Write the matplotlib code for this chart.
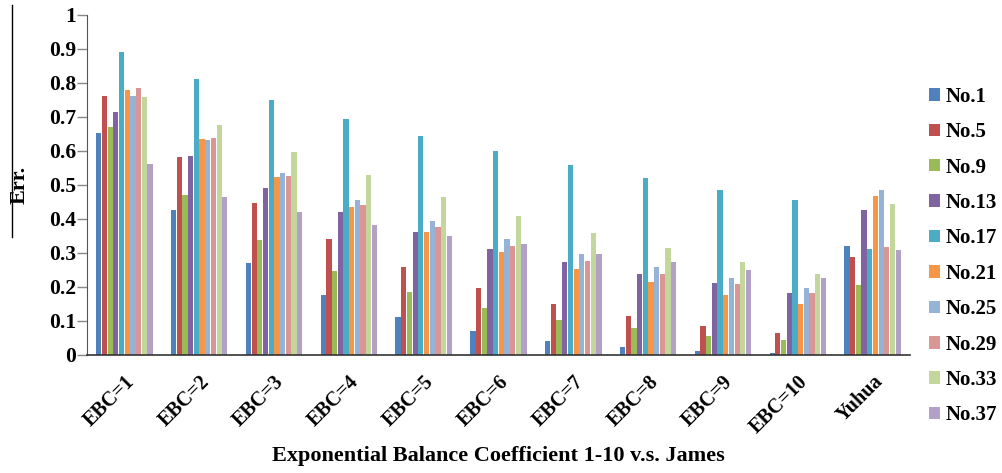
import matplotlib
matplotlib.use("Agg")
import matplotlib.pyplot as plt
import matplotlib.transforms as mtransforms
import numpy as np
from matplotlib.lines import Line2D

categories = ["EBC=1", "EBC=2", "EBC=3", "EBC=4", "EBC=5", "EBC=6",
              "EBC=7", "EBC=8", "EBC=9", "EBC=10", "Yuhua"]
series_names = ["No.1", "No.5", "No.9", "No.13", "No.17",
                "No.21", "No.25", "No.29", "No.33", "No.37"]
colors = ["#4F81BD", "#C0504D", "#9BBB59", "#8064A2", "#4BACC6",
          "#F79646", "#95B3D7", "#DA9694", "#C3D69B", "#B1A0C7"]

no1 = [0.652, 0.425, 0.271, 0.175, 0.112, 0.071, 0.041, 0.023, 0.013, 0.005, 0.321]
no5 = [0.763, 0.583, 0.446, 0.341, 0.260, 0.198, 0.151, 0.115, 0.086, 0.066, 0.287]
no9 = [0.672, 0.471, 0.338, 0.247, 0.184, 0.137, 0.104, 0.078, 0.057, 0.043, 0.206]
no13 = [0.714, 0.586, 0.492, 0.420, 0.362, 0.313, 0.273, 0.239, 0.211, 0.182, 0.425]
no17 = [0.890, 0.812, 0.751, 0.695, 0.645, 0.601, 0.560, 0.521, 0.486, 0.456, 0.313]
no21 = [0.779, 0.635, 0.524, 0.434, 0.362, 0.302, 0.252, 0.214, 0.176, 0.149, 0.469]
no25 = [0.763, 0.632, 0.534, 0.456, 0.393, 0.341, 0.296, 0.260, 0.226, 0.198, 0.486]
no29 = [0.786, 0.637, 0.525, 0.442, 0.375, 0.320, 0.275, 0.239, 0.208, 0.182, 0.318]
no33 = [0.760, 0.675, 0.598, 0.528, 0.466, 0.408, 0.359, 0.315, 0.273, 0.237, 0.445]
no37 = [0.562, 0.466, 0.420, 0.382, 0.351, 0.325, 0.296, 0.273, 0.250, 0.226, 0.310]

series = [no1, no5, no9, no13, no17, no21, no25, no29, no33, no37]

font = "Liberation Serif"

fig = plt.figure(figsize=(10.03, 4.73), dpi=100)
ax = fig.add_axes([87 / 1003, 1 - 355 / 473, (910 - 87) / 1003, (355 - 15) / 473])

x = np.arange(len(categories))
w = 0.076
for i, (name, vals) in enumerate(zip(series_names, series)):
    ax.bar(x + (i - 4.5) * w, vals, width=w * 0.92, color=colors[i],
           label=name, edgecolor="none")

ax.set_xlim(-0.5, len(categories) - 0.5)
ax.set_ylim(0, 1)
ax.set_yticks(np.arange(0, 1.01, 0.1))
ax.set_yticklabels(["0"] + ["%.1f" % v for v in np.arange(0.1, 0.95, 0.1)] + ["1"],
                   fontfamily=font, fontweight="bold", fontsize=15.5)
ax.set_xticks(x)
ax.set_xticklabels(categories, rotation=45, ha="right", va="top",
                   rotation_mode="anchor", fontfamily=font, fontweight="bold",
                   fontsize=14.5)
shift = mtransforms.ScaledTranslation(-6 / 100, 0, fig.dpi_scale_trans)
for lbl in ax.get_xticklabels():
    lbl.set_transform(lbl.get_transform() + shift)
ax.tick_params(axis="x", length=0, pad=12)
ax.tick_params(axis="y", length=7, width=1, color="#888888", pad=1)
ax.spines["top"].set_visible(False)
ax.spines["right"].set_visible(False)
ax.spines["left"].set_color("#555555")
ax.spines["bottom"].set_color("#333333")
ax.spines["bottom"].set_linewidth(1.2)

fig.text(498 / 1003, 1 - 456 / 473, "Exponential Balance Coefficient 1-10 v.s. James",
         ha="center", va="center", fontfamily=font, fontweight="bold", fontsize=16)
fig.text(20 / 1003, 1 - 185 / 473, "Err.", rotation=90, ha="center", va="center",
         fontfamily=font, fontweight="bold", fontsize=16)
fig.add_artist(Line2D([12 / 1003, 12 / 1003], [1 - 5 / 473, 1 - 237 / 473],
                      color="black", linewidth=1))

leg = fig.legend(loc="upper left", bbox_to_anchor=(910 / 1003, 1 - 68 / 473),
                 frameon=False, prop={"family": font, "weight": "bold", "size": 15},
                 handlelength=0.55, handleheight=0.55, handletextpad=0.25,
                 labelspacing=0.74)

fig.savefig("out.png", dpi=100)
